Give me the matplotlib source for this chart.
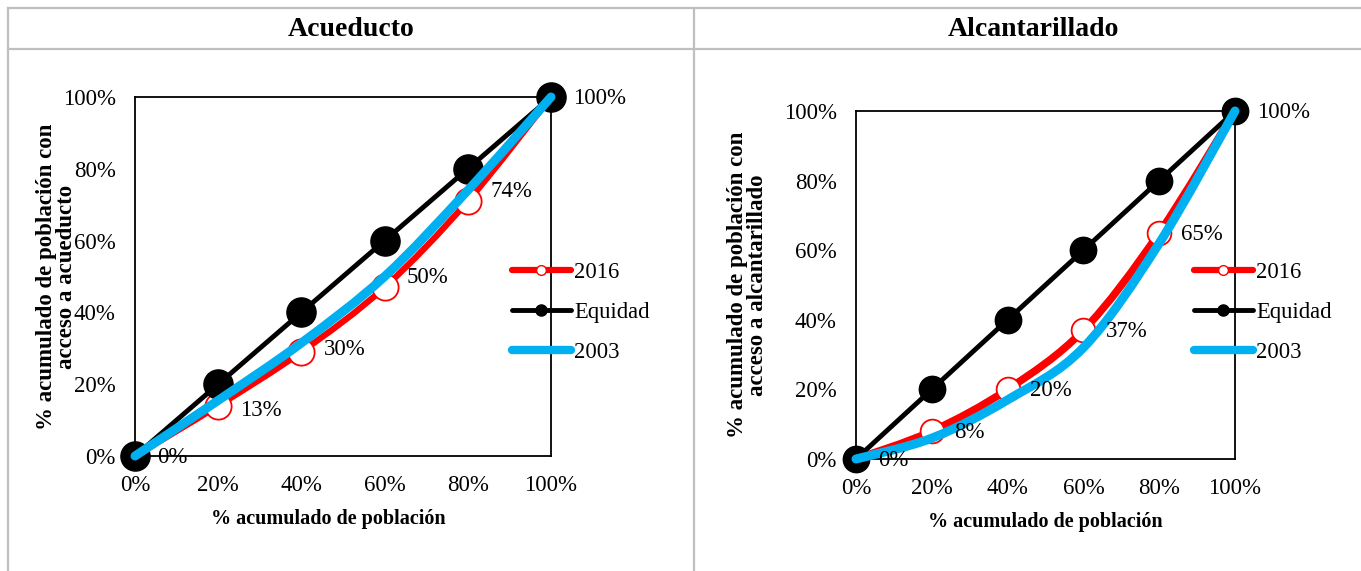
import numpy as np
import matplotlib
matplotlib.use("Agg")
import matplotlib.pyplot as plt
from matplotlib.lines import Line2D
from matplotlib.path import Path
from matplotlib.patches import PathPatch

plt.rcParams['font.family'] = ['Liberation Serif', 'DejaVu Serif']

# datos (% acumulado)
pob = [0, 20, 40, 60, 80, 100]
equidad = [0, 20, 40, 60, 80, 100]

acu_2016 = [0, 14, 29, 47, 71, 100]
acu_2003 = [0, 15.5, 31.5, 50, 74, 100]
acu_etiq = [0, 13, 30, 50, 74, 100]

alc_2016 = [0, 8, 20, 37, 65, 100]
alc_2003 = [0, 6, 17, 32, 62, 100]
alc_etiq = [0, 8, 20, 37, 65, 100]

W, H = 1361, 571
fig = plt.figure(figsize=(W / 100, H / 100), dpi=100)


def fx(x):
    return x / W


def fy(y):
    return 1 - y / H


def smooth_path(xs, ys):
    # curva suavizada tipo Excel (Catmull-Rom -> Bezier)
    p = np.column_stack([xs, ys]).astype(float)
    verts = [p[0]]
    codes = [Path.MOVETO]
    n = len(p)
    for i in range(n - 1):
        p0 = p[i - 1] if i > 0 else p[i]
        p3 = p[i + 2] if i + 2 < n else p[i + 1]
        c1 = p[i] + (p[i + 1] - p0) / 6
        c2 = p[i + 1] - (p3 - p[i]) / 6
        verts += [c1, c2, p[i + 1]]
        codes += [Path.CURVE4] * 3
    return Path(verts, codes)


def panel(rect, s2016, s2003, etiq, ylabel, msize, red_lw):
    ax = fig.add_axes(rect)
    ax.add_patch(PathPatch(smooth_path(pob, s2016), fill=False, edgecolor='#FF0000',
                           lw=red_lw, capstyle='round', clip_on=False, zorder=2))
    ax.plot(pob, s2016, ls='none', marker='o', ms=msize * 0.9, mfc='white',
            mec='#FF0000', mew=1.3, clip_on=False, zorder=2)
    ax.plot(pob, equidad, color='black', lw=3.5, marker='o', ms=msize,
            clip_on=False, zorder=3, solid_capstyle='round')
    ax.add_patch(PathPatch(smooth_path(pob, s2003), fill=False, edgecolor='#00B0F0',
                           lw=6.5, capstyle='round', clip_on=False, zorder=5))
    for x, v in zip(pob, etiq):
        ax.annotate(f"{v}%", (x, v), xytext=(16, -1), textcoords='offset points',
                    ha='left', va='center', fontsize=16.5, zorder=6,
                    annotation_clip=False)
    ax.set_xlim(0, 100)
    ax.set_ylim(0, 100)
    ticks = [0, 20, 40, 60, 80, 100]
    ax.set_xticks(ticks)
    ax.set_yticks(ticks)
    ax.set_xticklabels([f"{t}%" for t in ticks])
    ax.set_yticklabels([f"{t}%" for t in ticks])
    ax.tick_params(length=0, labelsize=16.5, pad=14)
    for s in ax.spines.values():
        s.set_linewidth(1.3)
    ax.set_xlabel('% acumulado de población', fontsize=14.5, fontweight='bold', labelpad=9)
    ax.set_ylabel(ylabel, fontsize=16.5, fontweight='bold', linespacing=0.95)
    ax.patch.set_alpha(0)
    return ax


ax1 = panel([fx(135), fy(456), fx(551) - fx(135), fy(97) - fy(456)],
            acu_2016, acu_2003, acu_etiq,
            '% acumulado de población con\nacceso a acueducto', 21, 4.5)
ax1.yaxis.set_label_coords(-0.14, 0.5)
ax1.xaxis.set_label_coords(0.464, -0.148)

ax2 = panel([fx(856), fy(459), fx(1235) - fx(856), fy(111) - fy(459)],
            alc_2016, alc_2003, alc_etiq,
            '% acumulado de población con\nacceso a alcantarillado', 19, 5.5)
ax2.yaxis.set_label_coords(-0.232, 0.5)

handles = [
    Line2D([], [], color='#FF0000', lw=4.5, marker='o', ms=7, mfc='white', mec='#FF0000',
           solid_capstyle='round'),
    Line2D([], [], color='black', lw=3.5, marker='o', ms=8, solid_capstyle='round'),
    Line2D([], [], color='#00B0F0', lw=6, solid_capstyle='round'),
]
names = ['2016', 'Equidad', '2003']
for lx, ly in [(512, 262), (1194, 262)]:
    fig.legend(handles, names, loc='upper left', bbox_to_anchor=(fx(lx), fy(ly)),
               frameon=False, fontsize=16.3, handlelength=2.6, handletextpad=0.15,
               labelspacing=0.84, borderpad=0, borderaxespad=0)

# marco de la tabla
gris = '#BFBFBF'
for (x0, y0, x1, y1) in [(8, 8, W, 8), (8, 49, W, 49), (8, 8, 8, H), (694, 8, 694, H)]:
    fig.add_artist(Line2D([fx(x0), fx(x1)], [fy(y0), fy(y1)], color=gris, lw=1.6))

fig.text(fx(351), fy(30), 'Acueducto', ha='center', va='center', fontsize=20, fontweight='bold')
fig.text(fx(1033), fy(30), 'Alcantarillado', ha='center', va='center', fontsize=20,
         fontweight='bold')

fig.savefig('out.png', dpi=100)
